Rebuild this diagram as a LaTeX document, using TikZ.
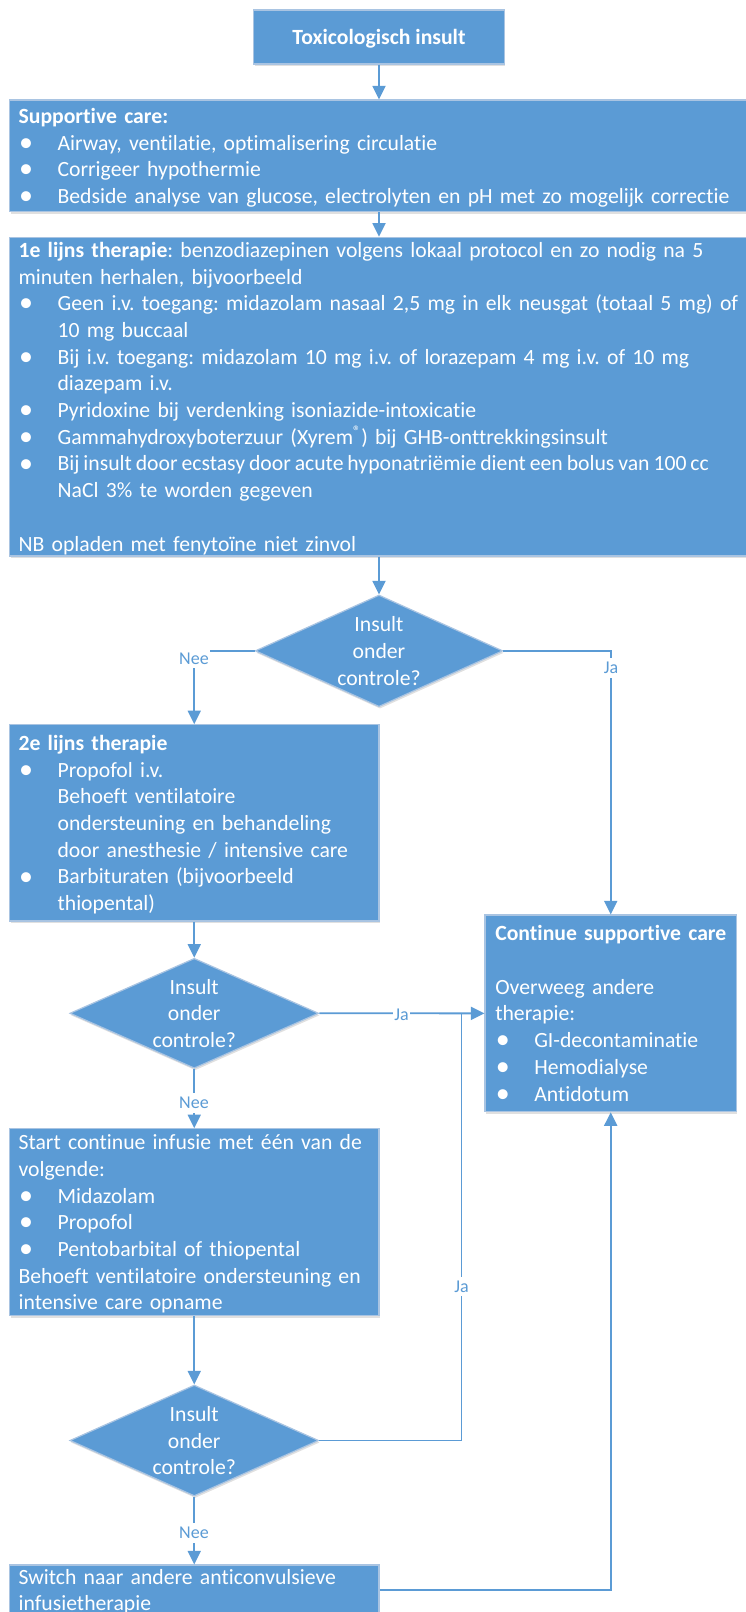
\documentclass[tikz,border=0pt]{standalone}
\usepackage{fontspec}
\setmainfont{Carlito}[Ligatures=NoCommon]
\usetikzlibrary{arrows.meta,shapes.geometric,shadows}

\definecolor{flowblue}{HTML}{5B9BD5}
\definecolor{flowedge}{HTML}{A9C4E2}

% body text: 21.7pt on a 26.7pt line
\newcommand\bodyfont{\fontsize{21.7pt}{26.7pt}\selectfont\frenchspacing}
\newcommand\lblfont{\fontsize{18pt}{21pt}\selectfont}
% struts that centre a text block on the middle of its lines
\newcommand\firstln{\rule{0pt}{19.9pt}}
\newcommand\lastln{\rule[-6.8pt]{0pt}{6.8pt}\par}
% bullet item with hanging indent
\newcommand\bul{\makebox[39pt][l]{\hspace{0.5pt}\raisebox{-1.2pt}{\fontsize{28pt}{28pt}\selectfont\textbullet}}}
\newcommand\bitem{\par\hangindent=39pt\hangafter=1\noindent\bul}

\begin{document}
\begin{tikzpicture}[x=1pt,y=-1pt,
  box/.style={rectangle, draw=flowedge, line width=1.2pt, fill=flowblue, inner sep=0pt,
    drop shadow={opacity=0.12, fill=black, shadow xshift=1pt, shadow yshift=-2pt}},
  dia/.style={diamond, draw=flowedge, line width=1.2pt, fill=flowblue, inner sep=0pt,
    drop shadow={opacity=0.12, fill=black, shadow xshift=1pt, shadow yshift=-2pt}},
  txt/.style={inner sep=0pt, text=white, font=\bodyfont, align=left, anchor=west},
  dtxt/.style={inner sep=0pt, text=white, font=\bodyfont, align=center, text width=200pt},
  conn/.style={draw=flowblue, line width=1.8pt, -{Triangle[length=13.5pt,width=13pt]}},
  link/.style={draw=flowblue, line width=1.8pt},
  lbl/.style={fill=white, text=flowblue, font=\lblfont, inner xsep=1pt, inner ysep=4pt}
]
\useasboundingbox (0,0) rectangle (746,1612);
\clip (0,0) rectangle (746,1612);
\fill[white] (0,0) rectangle (746,1612);

% ---------- boxes ----------
\node[box, minimum width=250.7pt, minimum height=54pt, text=white,
      font=\bodyfont\bfseries, text height=14pt, text depth=0pt] (top) at (379,37) {Toxicologisch insult};

\node[box, minimum width=737.5pt, minimum height=111.7pt] (sup) at (378.25,155.85) {};
\node[txt, text width=726pt, xshift=9.5pt, yshift=-1pt] (supt) at (sup.west) {\firstln\textbf{Supportive care:}
\bitem Airway, ventilatie, optimalisering circulatie
\bitem Corrigeer hypothermie
\bitem Bedside analyse van glucose, electrolyten en pH met zo mogelijk correctie\lastln};

\node[box, minimum width=737.5pt, minimum height=318.7pt] (e1) at (378.25,396.65) {};
\node[txt, text width=726pt, xshift=9.5pt, yshift=-1pt] (e1t) at (e1.west) {\firstln\textbf{1e lijns therapie}: benzodiazepinen volgens lokaal protocol en zo nodig na 5\newline
minuten herhalen, bijvoorbeeld
\bitem Geen i.v. toegang: midazolam nasaal 2,5 mg in elk neusgat (totaal 5 mg) of\newline 10 mg buccaal
\bitem Bij i.v. toegang: midazolam 10 mg i.v. of lorazepam 4 mg i.v. of 10 mg\newline diazepam i.v.
\bitem Pyridoxine bij verdenking isoniazide-intoxicatie
\bitem Gammahydroxyboterzuur (Xyrem\textsuperscript{®}) bij GHB-onttrekkingsinsult
\bitem {\spaceskip=3.9pt plus 1pt minus 1pt Bij insult door ecstasy door acute hyponatriëmie dient een bolus van 100~cc}\newline NaCl 3\% te worden gegeven
\par\noindent\mbox{}
\par\noindent NB opladen met fenytoïne niet zinvol\lastln};

\node[dia, minimum width=247.5pt, minimum height=111.7pt] (d1) at (379,650.85) {};
\node[dtxt, yshift=-1pt] (d1t) at (d1.center) {\firstln Insult\\onder\\controle?\lastln};

\node[box, minimum width=369.5pt, minimum height=196.3pt] (e2) at (194.25,822.85) {};
\node[txt, text width=355pt, xshift=9.5pt, yshift=-1pt] (e2t) at (e2.west) {\firstln\textbf{2e lijns therapie}
\bitem Propofol i.v.\newline Behoeft ventilatoire\newline ondersteuning en behandeling\newline door anesthesie / intensive care
\bitem Barbituraten (bijvoorbeeld\newline thiopental)\lastln};

\node[box, minimum width=251.4pt, minimum height=196.7pt] (cont) at (610.7,1013.35) {};
\node[txt, text width=238pt, xshift=10.7pt, yshift=-1pt] (contt) at (cont.west) {\firstln\textbf{Continue supportive care}
\par\noindent\mbox{}
\par\noindent Overweeg andere\newline therapie:
\bitem GI-decontaminatie
\bitem Hemodialyse
\bitem Antidotum\lastln};

\node[dia, minimum width=248.8pt, minimum height=110pt] (d2) at (194.25,1013.3) {};
\node[dtxt, yshift=-1pt] (d2t) at (d2.center) {\firstln Insult\\onder\\controle?\lastln};

\node[box, minimum width=369.5pt, minimum height=187pt] (e3) at (194.25,1222.2) {};
\node[txt, text width=355pt, xshift=9.5pt, yshift=-1pt] (e3t) at (e3.west) {\firstln Start continue infusie met één van de\newline volgende:
\bitem Midazolam
\bitem Propofol
\bitem Pentobarbital of thiopental
\par\noindent Behoeft ventilatoire ondersteuning en\newline intensive care opname\lastln};

\node[dia, minimum width=248.8pt, minimum height=111pt] (d3) at (194.25,1440.5) {};
\node[dtxt, yshift=-1pt] (d3t) at (d3.center) {\firstln Insult\\onder\\controle?\lastln};

\node[box, minimum width=369.5pt, minimum height=50pt] (e4) at (194.25,1590) {};
\node[txt, text width=355pt, xshift=9.5pt, yshift=-1pt] (e4t) at (e4.west) {\firstln Switch naar andere anticonvulsieve\newline infusietherapie\lastln};

% ---------- connectors ----------
\draw[conn] (top.south) -- (top.south |- sup.north);
\draw[conn] (top.south |- sup.south) -- (top.south |- e1.north);
\draw[conn] (top.south |- e1.south) -- (d1.north);

\draw[conn] (d1.west) -| (e2.north);
\draw[conn] (d1.east) -| (cont.north);

\draw[conn] (e2.south) -- (d2.north);
\draw[conn] (d2.east) -- (cont.west);
\draw[conn] (d2.south) -- (e3.north);

\draw[conn] (e3.south) -- (d3.north);
\coordinate (join) at (461.5,1013.3);
\draw[link] (d3.east) -| (join);
\draw[conn] (d3.south) -- (e4.north);

\draw[conn] (e4.east) -| (cont.south);

% ---------- branch labels ----------
\node[lbl] (nee1) at (194,658.3) {Nee};
\node[lbl] (ja1) at (611,668) {Ja};
\node[lbl] (ja2) at (401.5,1014.5) {Ja};
\node[lbl] (nee2) at (194,1102.7) {Nee};
\node[lbl] (ja3) at (461.5,1286.5) {Ja};
\node[lbl] (nee3) at (194,1533) {Nee};
\end{tikzpicture}
\end{document}
